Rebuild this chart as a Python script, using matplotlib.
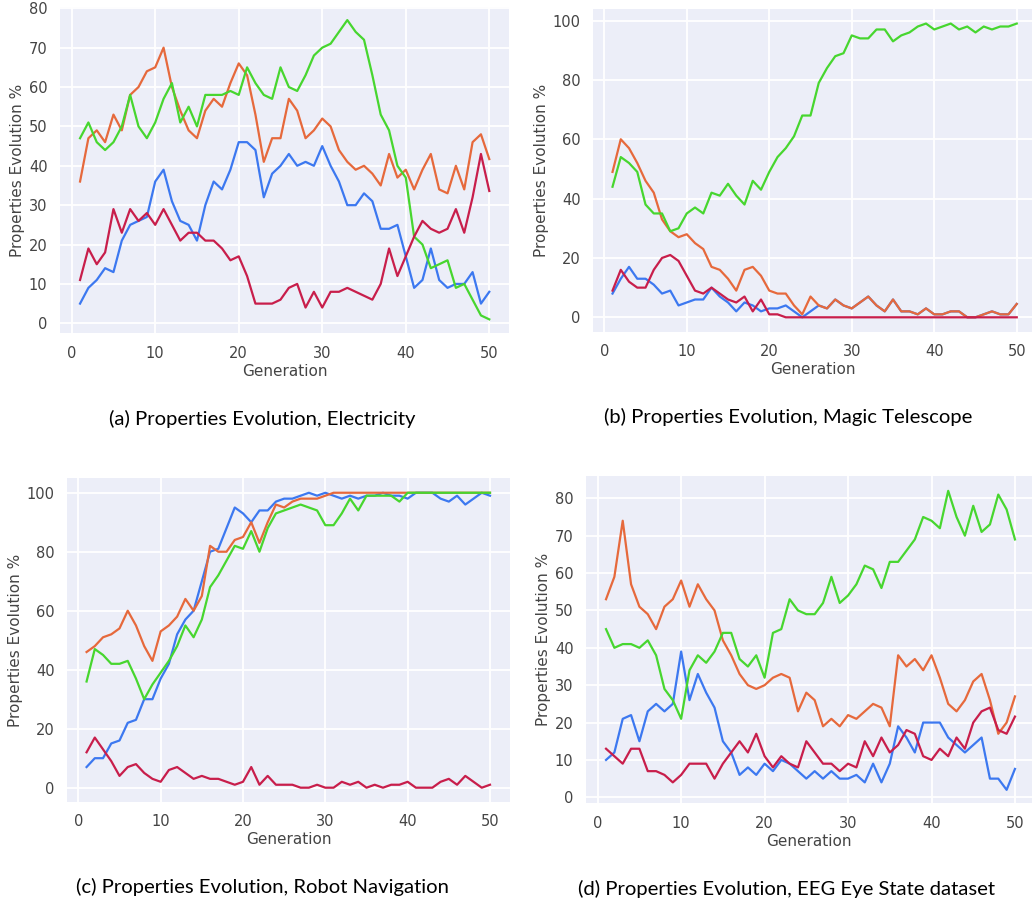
import matplotlib
matplotlib.use('Agg')
import matplotlib.pyplot as plt
import numpy as np

gens = np.arange(1, 51)

# (a) Electricity
elec_blue = [5, 9, 11, 14, 13, 21, 25, 26, 27, 36, 39, 31, 26, 25, 21, 30, 36, 34, 39, 46,
             46, 44, 32, 38, 40, 43, 40, 41, 40, 45, 40, 36, 30, 30, 33, 31, 24, 24, 25, 17,
             9, 11, 19, 11, 9, 10, 10, 13, 5, 8]
elec_orange = [36, 47, 49, 46, 53, 49, 58, 60, 64, 65, 70, 60, 54, 49, 47, 54, 57, 55, 61, 66,
               63, 53, 41, 47, 47, 57, 54, 47, 49, 52, 50, 44, 41, 39, 40, 38, 35, 43, 37, 39,
               34, 39, 43, 34, 33, 40, 34, 46, 48, 41.7]
elec_green = [47, 51, 46, 44, 46, 50, 58, 50, 47, 51, 57, 61, 51, 55, 50, 58, 58, 58, 59, 58,
              65, 61, 58, 57, 65, 60, 59, 63, 68, 70, 71, 74, 77, 74, 72, 63, 53, 49, 40, 37,
              22, 20, 14, 15, 16, 9, 10, 6, 2, 1]
elec_red = [11, 19, 15, 18, 29, 23, 29, 26, 28, 25, 29, 25, 21, 23, 23, 21, 21, 19, 16, 17,
            12, 5, 5, 5, 6, 9, 10, 4, 8, 4, 8, 8, 9, 8, 7, 6, 10, 19, 12, 17,
            22, 26, 24, 23, 24, 29, 23, 32, 43, 33.6]

# (b) Magic Telescope
magic_blue = [8, 13, 17, 13, 13, 11, 8, 9, 4, 5, 6, 6, 10, 7, 5, 2, 5, 4, 2, 3,
              3, 4, 2, 0, 2, 4, 3, 6, 4, 3, 5, 7, 4, 2, 6, 2, 2, 1, 3, 1,
              1, 2, 2, 0, 0, 1, 2, 1, 1, 4.5]
magic_orange = [49, 60, 57, 52, 46, 42, 33, 29, 27, 28, 25, 23, 17, 16, 13, 9, 16, 17, 14, 9,
                8, 8, 4, 1, 7, 4, 3, 6, 4, 3, 5, 7, 4, 2, 6, 2, 2, 1, 3, 1,
                1, 2, 2, 0, 0, 1, 2, 1, 1, 4.5]
magic_green = [44, 54, 52, 49, 38, 35, 35, 29, 30, 35, 37, 35, 42, 41, 45, 41, 38, 46, 43, 49,
               54, 57, 61, 68, 68, 79, 84, 88, 89, 95, 94, 94, 97, 97, 93, 95, 96, 98, 99, 97,
               98, 99, 97, 98, 96, 98, 97, 98, 98, 99]
magic_red = [9, 16, 12, 10, 10, 16, 20, 21, 19, 14, 9, 8, 10, 8, 6, 5, 7, 2, 6, 1,
             1, 0, 0, 0, 0, 0, 0, 0, 0, 0, 0, 0, 0, 0, 0, 0, 0, 0, 0, 0,
             0, 0, 0, 0, 0, 0, 0, 0, 0, 0]

# (c) Robot Navigation
robot_blue = [7, 10, 10, 15, 16, 22, 23, 30, 30, 37, 42, 52, 57, 60, 70, 80, 81, 88, 95, 93,
              90, 94, 94, 97, 98, 98, 99, 100, 99, 100, 99, 98, 99, 98, 99, 99, 100, 99, 99, 98,
              100, 100, 100, 98, 97, 99, 96, 98, 100, 99]
robot_orange = [46, 48, 51, 52, 54, 60, 55, 48, 43, 53, 55, 58, 64, 60, 65, 82, 80, 80, 84, 85,
                90, 83, 90, 96, 95, 97, 98, 98, 98, 99, 100, 100, 100, 100, 100, 100, 100, 100, 100, 100,
                100, 100, 100, 100, 100, 100, 100, 100, 100, 100]
robot_green = [36, 47, 45, 42, 42, 43, 37, 30, 35, 39, 43, 48, 55, 51, 57, 68, 72, 77, 82, 81,
               87, 80, 88, 93, 94, 95, 96, 95, 94, 89, 89, 93, 98, 94, 99, 99, 99, 99, 97, 100,
               100, 100, 100, 100, 100, 100, 100, 100, 100, 100]
robot_red = [12, 17, 13, 9, 4, 7, 8, 5, 3, 2, 6, 7, 5, 3, 4, 3, 3, 2, 1, 2,
             7, 1, 4, 1, 1, 1, 0, 0, 1, 0, 0, 2, 1, 2, 0, 1, 0, 1, 1, 2,
             0, 0, 0, 2, 3, 1, 4, 2, 0, 1]

# (d) EEG Eye State
eeg_blue = [10, 12, 21, 22, 15, 23, 25, 23, 25, 39, 26, 33, 28, 24, 15, 12, 6, 8, 6, 9,
            7, 10, 9, 7, 5, 7, 5, 7, 5, 5, 6, 4, 9, 4, 9, 19, 16, 12, 20, 20,
            20, 16, 14, 12, 14, 16, 5, 5, 2, 7.6]
eeg_orange = [53, 59, 74, 57, 51, 49, 45, 51, 53, 58, 51, 57, 53, 50, 42, 38, 33, 30, 29, 30,
              32, 33, 32, 23, 28, 26, 19, 21, 19, 22, 21, 23, 25, 24, 19, 38, 35, 37, 34, 38,
              32, 25, 23, 26, 31, 33, 26, 17, 20, 27]
eeg_green = [45, 40, 41, 41, 40, 42, 38, 29, 26, 21, 34, 38, 36, 39, 44, 44, 37, 35, 38, 32,
             44, 45, 53, 50, 49, 49, 52, 59, 52, 54, 57, 62, 61, 56, 63, 63, 66, 69, 75, 74,
             72, 82, 75, 70, 78, 71, 73, 81, 77, 69]
eeg_red = [13, 11, 9, 13, 13, 7, 7, 6, 4, 6, 9, 9, 9, 5, 9, 12, 15, 12, 17, 11,
           8, 11, 9, 8, 15, 12, 9, 9, 7, 9, 8, 15, 11, 16, 12, 14, 18, 17, 11, 10,
           13, 11, 16, 13, 20, 23, 24, 18, 17, 21.6]

captions = ['(a) Properties Evolution, Electricity',
            '(b) Properties Evolution, Magic Telescope',
            '(c) Properties Evolution, Robot Navigation',
            '(d) Properties Evolution, EEG Eye State dataset']

C = {'blue': '#3c78f0', 'orange': '#e6693c', 'green': '#47d62f', 'red': '#c81e4b'}
BG = '#eceef8'
TXT = '#444444'

W, H = 1032, 906
fig = plt.figure(figsize=(W / 100, H / 100), dpi=100)

# panel boxes in pixels: left, top, right, bottom
boxes = [(60, 6.7, 509, 333.3), (593.3, 9.3, 1032, 331.7),
         (67.3, 478.3, 510, 801.7), (586, 476, 1032, 803.3)]
xlims = [(-1.4, 52.36), (-1.33, 51.85), (-1.34, 52.43), (-1.4, 52.04)]
ylims = [(-2.54, 80.4), (-4.85, 103.8), (-4.75, 104.9), (-1.6, 85.97)]
yticks = [np.arange(0, 81, 10), np.arange(0, 101, 20), np.arange(0, 101, 20), np.arange(0, 81, 10)]
data = [(elec_blue, elec_orange, elec_green, elec_red),
        (magic_blue, magic_orange, magic_green, magic_red),
        (robot_blue, robot_orange, robot_green, robot_red),
        (eeg_blue, eeg_orange, eeg_green, eeg_red)]
cap_pos = [(262, 419), (788, 417), (262, 887), (787, 889)]

for i in range(4):
    l, t, r, b = boxes[i]
    ax = fig.add_axes([l / W, 1 - b / H, (r - l) / W, (b - t) / H])
    ax.set_facecolor(BG)
    for s in ax.spines.values():
        s.set_visible(False)
    ax.grid(True, color='white', linewidth=1.3)
    ax.set_axisbelow(True)
    for series, col in zip(data[i], ['blue', 'orange', 'green', 'red']):
        ax.plot(gens, series, color=C[col], linewidth=1.6)
    ax.set_xlim(*xlims[i])
    ax.set_ylim(*ylims[i])
    ax.set_xticks(np.arange(0, 51, 10))
    ax.set_yticks(yticks[i])
    ax.tick_params(length=0, labelsize=10.5, labelcolor=TXT, pad=9)
    ax.set_xlabel('Generation', fontsize=11, color=TXT, labelpad=2)
    ax.set_ylabel('Properties Evolution %', fontsize=11, color=TXT, labelpad=3)
    cx, cy = cap_pos[i]
    fig.text(cx / W, 1 - cy / H, captions[i], ha='center', va='center',
             fontsize=14.6, family=['Lato', 'DejaVu Sans'], color='black')

fig.savefig('out.png', dpi=100, facecolor='white')
